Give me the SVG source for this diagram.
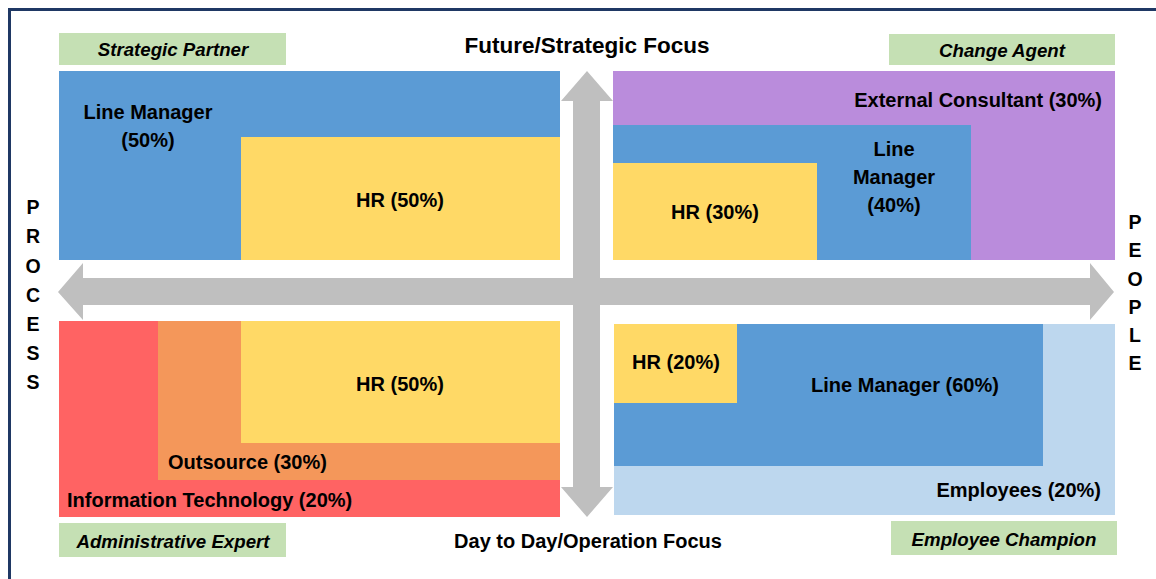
<svg xmlns="http://www.w3.org/2000/svg" width="1156" height="579" viewBox="0 0 1156 579">
<style>
text{font-family:"Liberation Sans",Arial,sans-serif;font-weight:bold;fill:#000;}
.t{font-size:20px;}
.lab{font-size:18.7px;font-style:italic;}
.axis{font-size:22.5px;}
.let{font-size:19.5px;text-anchor:middle;}
.mid{text-anchor:middle;}
.end{text-anchor:end;}
.green{fill:#C5E0B4;}
.blue{fill:#5B9BD5;}
.yellow{fill:#FFD966;}
.purple{fill:#BA8CDC;}
.red{fill:#FF6363;}
.orange{fill:#F4975A;}
.lblue{fill:#BDD7EE;}
.arrow{fill:#BFBFBF;}
</style>
<rect width="1156" height="579" fill="#fff"/>
<path d="M9.5 579 V9.5 H1156" fill="none" stroke="#1F3864" stroke-width="3"/>

<g id="connectors">
<path class="arrow" d="M58 292 L83 263 L83 278 L1090 278 L1090 263 L1114 292 L1090 320 L1090 305 L83 305 L83 320 Z"/>
<path class="arrow" d="M587 71 L613 101 L600 101 L600 487 L613 487 L587 517 L561 487 L573 487 L573 101 L561 101 Z"/>
</g>

<g id="axis-labels">
<text class="axis mid" x="587" y="53">Future/Strategic Focus</text>
<text class="t mid" x="588" y="548">Day to Day/Operation Focus</text>
<g id="process">
<text class="let" x="33" y="214">P</text>
<text class="let" x="33" y="243">R</text>
<text class="let" x="33" y="273">O</text>
<text class="let" x="33" y="302">C</text>
<text class="let" x="33" y="331">E</text>
<text class="let" x="33" y="360">S</text>
<text class="let" x="33" y="389">S</text>
</g>
<g id="people">
<text class="let" x="1135" y="229">P</text>
<text class="let" x="1135" y="257">E</text>
<text class="let" x="1135" y="286">O</text>
<text class="let" x="1135" y="314">P</text>
<text class="let" x="1135" y="342">L</text>
<text class="let" x="1135" y="370">E</text>
</g>
</g>

<g id="strategic-partner">
<rect class="green" x="59" y="33" width="227" height="32"/>
<text class="lab mid" x="173" y="56">Strategic Partner</text>
</g>
<g id="change-agent">
<rect class="green" x="889" y="34" width="226" height="31"/>
<text class="lab mid" x="1002" y="57">Change Agent</text>
</g>
<g id="administrative-expert">
<rect class="green" x="59" y="523" width="227" height="34"/>
<text class="lab mid" x="173" y="548">Administrative Expert</text>
</g>
<g id="employee-champion">
<rect class="green" x="891" y="521" width="226" height="34"/>
<text class="lab mid" x="1004" y="546">Employee Champion</text>
</g>

<g id="tl-line-manager">
<rect class="blue" x="59" y="71" width="501" height="189"/>
<text class="t mid" x="148" y="119">Line Manager</text>
<text class="t mid" x="148" y="147">(50%)</text>
</g>
<g id="tl-hr">
<rect class="yellow" x="241" y="137" width="319" height="123"/>
<text class="t mid" x="400" y="207">HR (50%)</text>
</g>

<g id="tr-external-consultant">
<rect class="purple" x="613" y="71" width="502" height="189"/>
<text class="t end" x="1102" y="107">External Consultant (30%)</text>
</g>
<g id="tr-line-manager">
<rect class="blue" x="613" y="125" width="358" height="135"/>
<text class="t mid" x="894" y="156">Line</text>
<text class="t mid" x="894" y="184">Manager</text>
<text class="t mid" x="894" y="212">(40%)</text>
</g>
<g id="tr-hr">
<rect class="yellow" x="613" y="163" width="204" height="97"/>
<text class="t mid" x="715" y="219">HR (30%)</text>
</g>

<g id="bl-information-technology">
<rect class="red" x="59" y="321" width="501" height="196"/>
<text class="t" x="67" y="507">Information Technology (20%)</text>
</g>
<g id="bl-outsource">
<rect class="orange" x="158" y="321" width="402" height="159"/>
<text class="t" x="168" y="469">Outsource (30%)</text>
</g>
<g id="bl-hr">
<rect class="yellow" x="241" y="321" width="319" height="122"/>
<text class="t mid" x="400" y="391">HR (50%)</text>
</g>

<g id="br-employees">
<rect class="lblue" x="614" y="324" width="501" height="191"/>
<text class="t end" x="1101" y="497">Employees (20%)</text>
</g>
<g id="br-line-manager">
<rect class="blue" x="614" y="324" width="429" height="142"/>
<text class="t mid" x="905" y="392">Line Manager (60%)</text>
</g>
<g id="br-hr">
<rect class="yellow" x="614" y="324" width="123" height="79"/>
<text class="t mid" x="676" y="369">HR (20%)</text>
</g>
</svg>
